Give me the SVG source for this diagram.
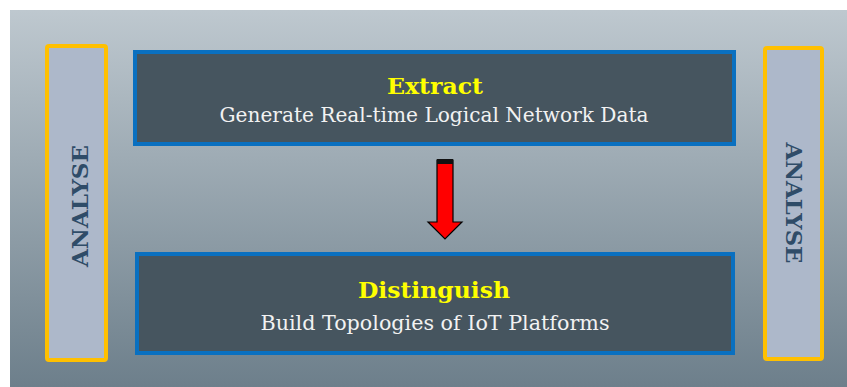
<svg xmlns="http://www.w3.org/2000/svg" width="847" height="387" viewBox="0 0 847 387">
  <defs>
    <linearGradient id="bg" x1="0" y1="0" x2="0" y2="1">
      <stop offset="0" stop-color="#BEC8CF"/>
      <stop offset="1" stop-color="#6D7F8B"/>
    </linearGradient>
  </defs>
  <style>
    .step { fill: #46555F; stroke: #0A70C0; stroke-width: 4; }
    .side { fill: #ADB8CA; stroke: #FFC000; stroke-width: 4; }
    .title { font-family: "DejaVu Serif", "Liberation Serif", serif; font-weight: bold; font-size: 23px; fill: #FFFF00; text-anchor: middle; }
    .sub { font-family: "DejaVu Serif", "Liberation Serif", serif; font-size: 20px; fill: #F2F2F2; text-anchor: middle; }
    .vert { font-family: "DejaVu Serif", "Liberation Serif", serif; font-weight: bold; font-size: 22px; fill: #2F4C68; text-anchor: middle; }
    .arrow { fill: #FF0000; stroke: #000000; stroke-width: 1.2; stroke-linejoin: miter; }
  </style>

  <!-- backdrop panel -->
  <rect x="0" y="0" width="847" height="387" fill="#FFFFFF"/>
  <rect x="10" y="10" width="837" height="377" fill="url(#bg)"/>

  <!-- side bars -->
  <g id="analyse-left">
    <rect class="side" x="47" y="46" width="59" height="314" rx="2"/>
    <text class="vert" transform="translate(88,206) rotate(-90)" textLength="122" lengthAdjust="spacingAndGlyphs">ANALYSE</text>
  </g>
  <g id="analyse-right">
    <rect class="side" x="765" y="48" width="57" height="311" rx="2"/>
    <text class="vert" transform="translate(786,203) rotate(90)" textLength="121" lengthAdjust="spacingAndGlyphs">ANALYSE</text>
  </g>

  <!-- process steps -->
  <g id="extract">
    <rect class="step" x="135" y="52" width="599" height="92"/>
    <text class="title" x="435" y="94" textLength="96" lengthAdjust="spacingAndGlyphs">Extract</text>
    <text class="sub" x="434" y="122" textLength="429" lengthAdjust="spacingAndGlyphs">Generate Real-time Logical Network Data</text>
  </g>
  <g id="distinguish">
    <rect class="step" x="137" y="254" width="596" height="99"/>
    <text class="title" x="434" y="298" textLength="152" lengthAdjust="spacingAndGlyphs">Distinguish</text>
    <text class="sub" x="435" y="330" textLength="349" lengthAdjust="spacingAndGlyphs">Build Topologies of IoT Platforms</text>
  </g>

  <!-- connectors -->
  <g id="connectors">
    <polygon class="arrow" points="437,160 453,160 453,222 462,222 445,239 428,222 437,222"/>
    <rect x="437" y="159" width="16" height="5" fill="#111111"/>
  </g>
</svg>
